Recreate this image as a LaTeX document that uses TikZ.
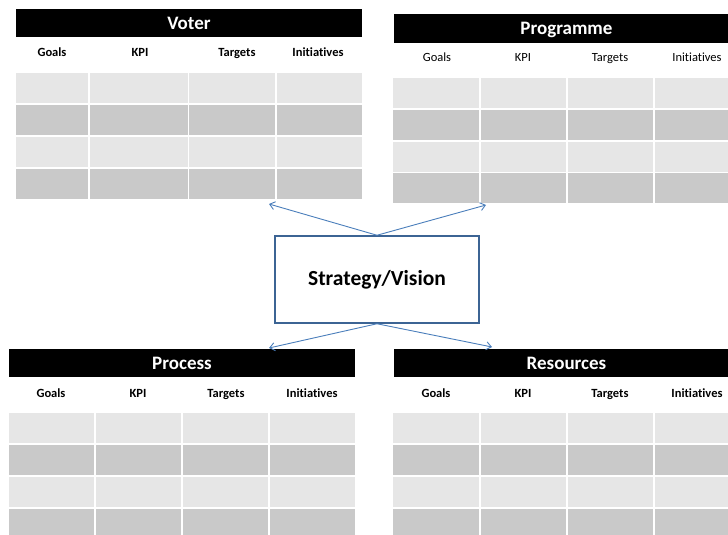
\documentclass[tikz,border=0pt]{standalone}
\usepackage{fontspec}
\setmainfont[Ligatures=NoCommon]{Carlito}
\usetikzlibrary{arrows.meta, positioning}
\definecolor{cellA}{HTML}{E6E6E6}
\definecolor{cellB}{HTML}{C9C9C9}
\definecolor{linkblue}{HTML}{4A7EBB}
\definecolor{boxblue}{HTML}{3C6494}

\begin{document}
\begin{tikzpicture}[
    x=1pt, y=-1pt,
    title/.style={rectangle, fill=black, text=white, font=\bfseries\fontsize{19}{22}\selectfont, minimum width=346pt, minimum height=28pt, inner sep=0pt, text height=14pt, text depth=1pt},
    colhead/.style={anchor=base, font=\bfseries\fontsize{12.5}{14}\selectfont, inner sep=0pt},
    colplain/.style={anchor=base, font=\fontsize{12.5}{14}\selectfont, inner sep=0pt},
    strategy/.style={rectangle, draw=boxblue, line width=1.5pt, fill=white, minimum width=204pt, minimum height=87pt, font=\bfseries\fontsize{21.5}{24}\selectfont},
    arrow/.style={-{Straight Barb[length=5pt, width=8pt]}, draw=linkblue, line width=0.9pt}
]
\useasboundingbox (0,0) rectangle (728,535);
\clip (0,0) rectangle (728,535);

% Cells
\foreach \ya/\f in {73/cellA, 105/cellB, 137/cellA, 169/cellB}
  \foreach \xa/\xb in {16/88, 90/188, 189/275, 277/362}
    \fill[\f] (\xa,\ya) rectangle (\xb,\ya+30);
\foreach \ya/\f in {78/cellA, 110/cellB, 142/cellA, 173/cellB}
  \foreach \xa/\xb in {393/479, 481/566, 568/653, 655/740}
    \fill[\f] (\xa,\ya) rectangle (\xb,\ya+30);
\foreach \ya/\f in {413/cellA, 445/cellB, 477/cellA, 509/cellB}
  \foreach \xa/\xb in {9/94, 96/181, 183/268, 270/355}
    \fill[\f] (\xa,\ya) rectangle (\xb,\ya+30);
\foreach \ya/\f in {413/cellA, 445/cellB, 477/cellA, 509/cellB}
  \foreach \xa/\xb in {393/479, 481/566, 568/653, 655/740}
    \fill[\f] (\xa,\ya) rectangle (\xb,\ya+30);

% Titles
\node (voter) [title] at (189,23) {Voter};
\node (programme) [title, minimum height=29pt] at (566.5,28.5) {Programme};
\node (process) [title] at (182,363) {Process};
\node (resources) [title] at (566.5,363) {Resources};

% Column heads
\foreach \n/\x/\t in {g/52/Goals, k/140/KPI, t/237/Targets, i/318/Initiatives}
  \node (voter-\n) [colhead] at (\x,57) {\t};
\foreach \n/\x/\t in {g/437/Goals, k/523/KPI, t/610/Targets, i/697/Initiatives}
  \node (programme-\n) [colplain] at (\x,61.5) {\t};
\foreach \n/\x/\t in {g/51/Goals, k/138/KPI, t/226/Targets, i/312/Initiatives}
  \node (process-\n) [colhead] at (\x,397) {\t};
\foreach \n/\x/\t in {g/436/Goals, k/523/KPI, t/610/Targets, i/697/Initiatives}
  \node (resources-\n) [colhead] at (\x,397) {\t};

% Centre
\node (vision) [strategy] at (377,279.5) {Strategy/Vision};

\coordinate (voter-tip) at (269,204);
\coordinate (programme-tip) at (486,205);
\coordinate (process-tip) at (269,348);
\coordinate (resources-tip) at (492,347);

% Arrows
\draw [arrow] (vision.north) -- (voter-tip);
\draw [arrow] (vision.north) -- (programme-tip);
\draw [arrow] (vision.south) -- (process-tip);
\draw [arrow] (vision.south) -- (resources-tip);

\end{tikzpicture}
\end{document}
